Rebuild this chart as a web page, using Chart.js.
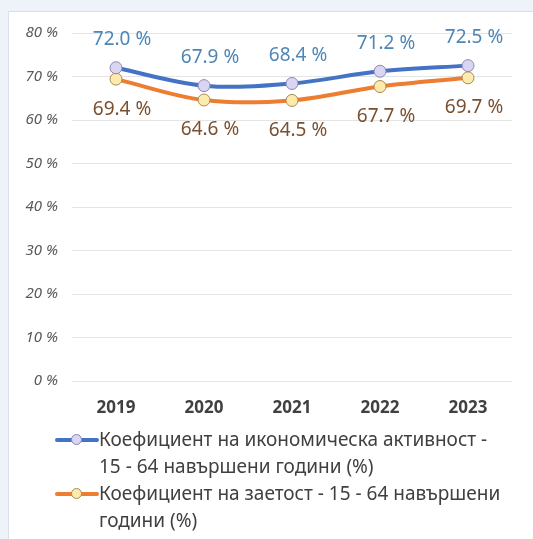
<!DOCTYPE html>
<html><head><meta charset="utf-8">
<script src="https://cdn.jsdelivr.net/npm/chart.js@4"></script>
<style>
html,body{margin:0;padding:0;width:533px;height:539px;overflow:hidden;background:#eef3f9;}
#panel{position:absolute;left:8px;top:11px;width:540px;height:540px;background:#fff;border:1px solid #d9e0e8;}
#wrap{position:absolute;left:0;top:0;width:533px;height:539px;}
#legend{position:absolute;left:55px;top:426px;font-family:"Noto Sans",sans-serif;font-size:19px;color:#404040;line-height:27px;white-space:nowrap;}
.item{position:relative;padding-left:44px;}
.mk{position:absolute;left:0;top:12px;width:44px;height:4px;border-radius:2px;}
.dot{position:absolute;left:16px;top:-4px;width:9px;height:9px;border-radius:50%;border:1px solid;}
</style></head>
<body>
<div id="panel"></div>
<div id="wrap"><canvas id="c" width="533" height="539"></canvas></div>
<div id="legend"></div>
<script>
const categories = ["2019","2020","2021","2022","2023"];
const activity = [72.0, 67.9, 68.4, 71.2, 72.5];
const employment = [69.4, 64.6, 64.5, 67.7, 69.7];
const seriesNames = ["Коефициент на икономическа активност - 15 - 64 навършени години (%)","Коефициент на заетост - 15 - 64 навършени години (%)"];
const legendLines = [["Коефициент на икономическа активност -","15 - 64 навършени години (%)"],["Коефициент на заетост - 15 - 64 навършени","години (%)"]];
const yTicks = [0,10,20,30,40,50,60,70,80];

const colors = [
  {line:"#4472c4", fill:"#d9d5f3", border:"#8d86b0", label:"#4e86b6"},
  {line:"#ed7d31", fill:"#fdebad", border:"#a88a55", label:"#7b5030"}
];

const labelPlugin = {
  id:"dl",
  afterDatasetsDraw(chart){
    const ctx = chart.ctx;
    ctx.save();
    ctx.font = '19px "Noto Sans", sans-serif';
    ctx.textAlign = "center";
    ctx.textBaseline = "middle";
    chart.data.datasets.forEach((ds,di)=>{
      const meta = chart.getDatasetMeta(di);
      ctx.fillStyle = colors[di].label;
      meta.data.forEach((pt,i)=>{
        const v = ds.data[i].toFixed(1) + " %";
        const dy = di===0 ? -28 : 30;
        ctx.fillText(v, pt.x + 6, pt.y + dy);
      });
    });
    ctx.restore();
  }
};

new Chart(document.getElementById("c"), {
  type:"line",
  data:{
    labels:categories,
    datasets:[
      {label:seriesNames[0], data:activity, borderColor:colors[0].line, borderWidth:4, tension:0.35,
       pointRadius:6, pointBackgroundColor:colors[0].fill, pointBorderColor:colors[0].border, pointBorderWidth:1},
      {label:seriesNames[1], data:employment, borderColor:colors[1].line, borderWidth:4, tension:0.35,
       pointRadius:6, pointBackgroundColor:colors[1].fill, pointBorderColor:colors[1].border, pointBorderWidth:1}
    ]
  },
  options:{
    responsive:false, animation:false,
    layout:{padding:{left:0, top:33, right:21, bottom:118}},
    plugins:{legend:{display:false}, tooltip:{enabled:false}},
    scales:{
      x:{
        offset:true,
        grid:{display:false, drawTicks:false, offset:true}, border:{display:false},
        ticks:{color:"#404040", font:{family:"Noto Sans", size:17, weight:"bold"}, padding:17},
        afterFit(s){ s.height = 40; }
      },
      y:{
        min:0, max:80,
        afterBuildTicks(s){ s.ticks = yTicks.map(v=>({value:v})); },
        grid:{color:"#e4e4e4", drawTicks:false}, border:{display:false},
        ticks:{color:"#595959", font:{family:"Noto Sans", size:15, style:"italic"}, padding:14,
          callback:v=>v+" %"},
        afterFit(s){ s.width = 72; }
      }
    }
  },
  plugins:[labelPlugin]
});

const lg = document.getElementById("legend");
legendLines.forEach((lines,i)=>{
  const d = document.createElement("div");
  d.className="item";
  d.innerHTML = `<span class="mk" style="background:${colors[i].line}"><span class="dot" style="background:${colors[i].fill};border-color:${colors[i].border}"></span></span>` + lines.join("<br>");
  lg.appendChild(d);
});
</script>
</body></html>
